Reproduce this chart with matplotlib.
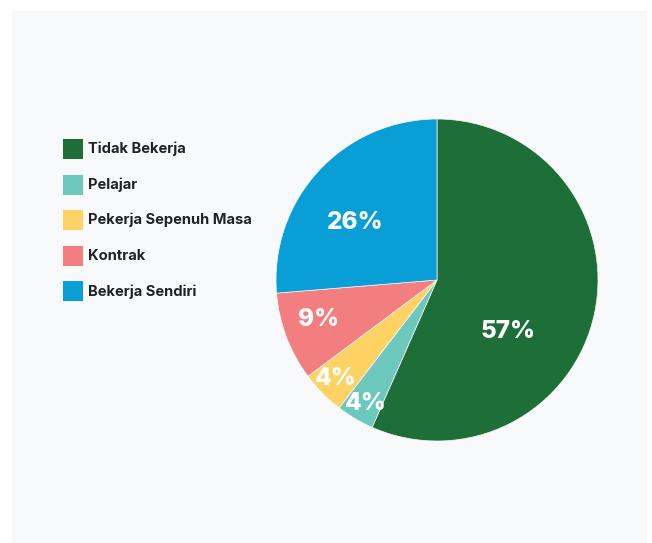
import matplotlib

matplotlib.use("Agg")

import matplotlib.pyplot as plt
from matplotlib.patches import Rectangle
import numpy as np

# data
labels = ["Tidak Bekerja", "Pelajar", "Pekerja Sepenuh Masa", "Kontrak", "Bekerja Sendiri"]
shares = [56.6, 3.8, 4.4, 8.9, 26.3]
colors = ["#1d6e37", "#6cc8bd", "#fed263", "#f27e80", "#0a9ed6"]

# where each percentage sits inside the pie (axes data units, radius = 1)
label_xy = [(0.44, -0.317), (-0.441, -0.764), (-0.627, -0.609), (-0.733, -0.248), (-0.51, 0.36)]

W, H = 652, 543
fig = plt.figure(figsize=(W / 100, H / 100), dpi=100)
fig.patch.set_facecolor("white")

# light panel behind everything
fig.patches.append(
    Rectangle((12 / W, 0), (647 - 12) / W, (H - 11) / H,
              transform=fig.transFigure, facecolor="#f8f9fb", edgecolor="none", zorder=-5)
)

cx, cy, r = 437, 280, 161
ax = fig.add_axes([(cx - r) / W, (H - cy - r) / H, 2 * r / W, 2 * r / H], zorder=5)
ax.set_facecolor("none")
ax.pie(
    shares,
    colors=colors,
    startangle=90,
    counterclock=False,
    radius=1,
    wedgeprops=dict(linewidth=0.5, edgecolor="#f8f9fb"),
)
ax.set_xlim(-1, 1)
ax.set_ylim(-1, 1)
ax.set_aspect("equal")
ax.axis("off")

for v, (x, y) in zip(shares, label_xy):
    ax.text(x, y, f"{round(v)}%", ha="center", va="center", color="white",
            fontsize=17.5, fontweight="heavy", family=["Inter", "DejaVu Sans"])

# legend
for i, (lab, col) in enumerate(zip(labels, colors)):
    yc = 149 + i * 35.6
    fig.patches.append(
        Rectangle((63 / W, (H - yc - 10) / H), 20 / W, 20 / H,
                  transform=fig.transFigure, facecolor=col, edgecolor="none")
    )
    fig.text(88 / W, (H - yc) / H, lab, ha="left", va="center", color="#222222",
             fontsize=10.6, fontweight="bold", family=["Inter", "DejaVu Sans"])

fig.savefig("out.png", dpi=100)
